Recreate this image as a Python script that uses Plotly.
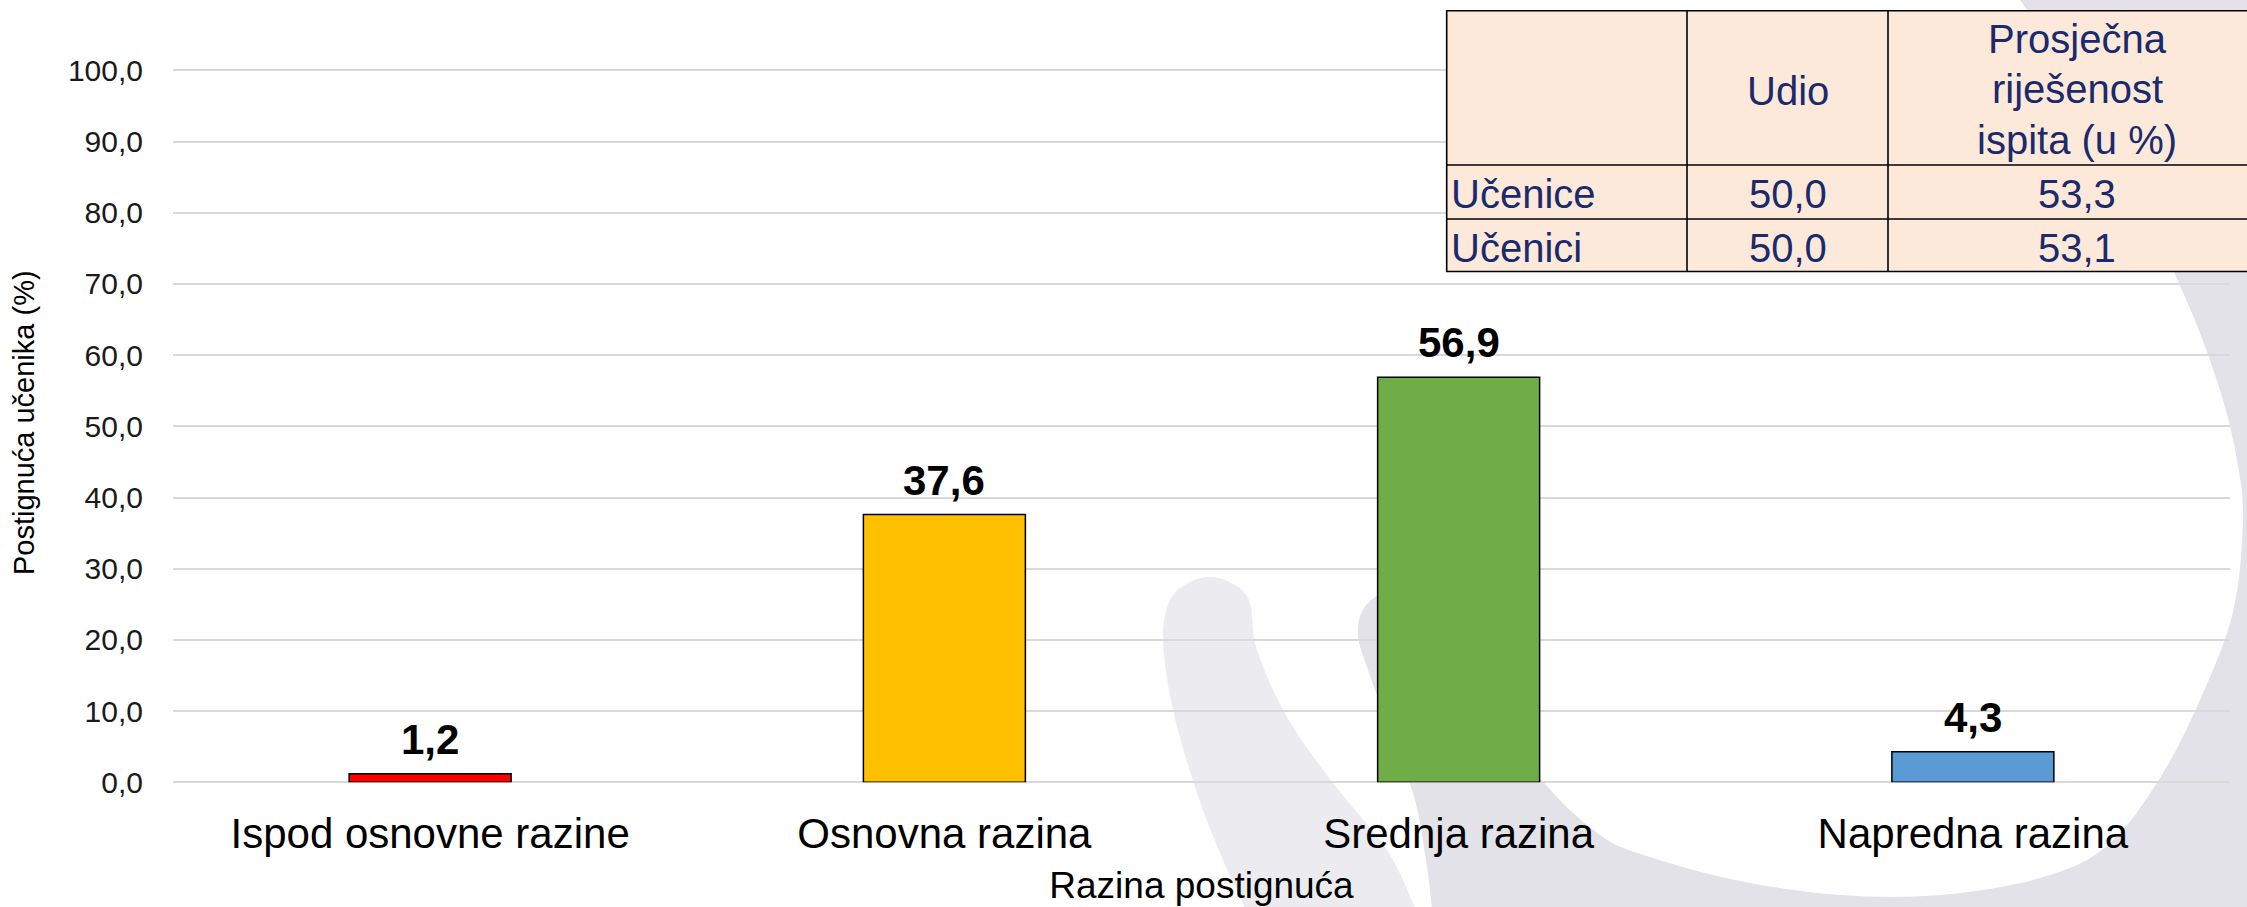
import plotly.graph_objects as go

# ---------------- data ----------------
categories = ["Ispod osnovne razine", "Osnovna razina", "Srednja razina", "Napredna razina"]
values = [1.2, 37.6, 56.9, 4.3]
bar_colors = ["#FF0000", "#FFC000", "#70AD47", "#5B9BD5"]
y_ticks = [0, 10, 20, 30, 40, 50, 60, 70, 80, 90, 100]

table_col_headers = ["", "Udio", "Prosječna<br>riješenost<br>ispita (u %)"]
table_row_labels = ["Učenice", "Učenici"]
table_udio = [50.0, 50.0]
table_rijesenost = [53.3, 53.1]

# ---------------- layout helpers ----------------
W, H = 2247, 907
FONT = "Arial, 'Liberation Sans', sans-serif"
NAVY = "#1a2a6c"
PEACH = "#FDE9D9"


def fx(x):
    return x / W


def fy(y):
    return 1 - y / H


def fmt(v):
    return f"{v:.1f}".replace(".", ",")


def smooth(pts):
    s = f"M{fx(pts[0][0]):.5f},{fy(pts[0][1]):.5f}"
    n = len(pts)
    for i in range(n - 1):
        p0 = pts[i - 1] if i > 0 else pts[i]
        p1 = pts[i]
        p2 = pts[i + 1]
        p3 = pts[i + 2] if i + 2 < n else p2
        c1 = (p1[0] + (p2[0] - p0[0]) / 6, p1[1] + (p2[1] - p0[1]) / 6)
        c2 = (p2[0] - (p3[0] - p1[0]) / 6, p2[1] - (p3[1] - p1[1]) / 6)
        s += (f" C{fx(c1[0]):.5f},{fy(c1[1]):.5f} {fx(c2[0]):.5f},{fy(c2[1]):.5f}"
              f" {fx(p2[0]):.5f},{fy(p2[1]):.5f}")
    return s


# plot area (pixels)
PX_L, PX_R = 173, 2230
PY_0 = 782.3
PX_PER_UNIT = 7.12
Y_MAX = 101
PY_TOP = PY_0 - Y_MAX * PX_PER_UNIT

# ---------------- watermark (background logo) ----------------
ring_curve = [(1432, 907), (1426, 860), (1415, 800), (1392, 735), (1368, 670), (1358, 635),
              (1364, 608), (1385, 592), (1408, 590), (1432, 612), (1480, 690), (1540, 778),
              (1600, 835), (1650, 857), (1740, 881), (1840, 895), (1940, 895), (2040, 878),
              (2107, 846), (2160, 778), (2200, 700), (2233, 612), (2243, 520), (2237, 460),
              (2223, 400), (2200, 333), (2173, 270), (2110, 130), (2020, 0)]
ring_path = smooth(ring_curve) + (f" L{fx(W + 5):.5f},{fy(-5):.5f} L{fx(W + 5):.5f},{fy(H + 5):.5f}"
                                  f" L{fx(1432):.5f},{fy(H + 5):.5f} Z")

bandA_curve = [(1247, 912), (1223, 860), (1197, 793), (1173, 710), (1163, 640), (1170, 600),
               (1190, 582), (1212, 577), (1235, 585), (1250, 603), (1257, 650), (1287, 717),
               (1333, 783), (1387, 850), (1417, 912)]
bandA_path = smooth(bandA_curve) + " Z"

shapes = [
    dict(type="path", xref="paper", yref="paper", path=ring_path, fillcolor="#E2E2E8",
         line=dict(width=0), layer="below"),
    dict(type="path", xref="paper", yref="paper", path=bandA_path, fillcolor="#ECECF0",
         line=dict(width=0), layer="below"),
]

# ---------------- inset table ----------------
T_L, T_R = 1446.7, 2275
T_TOP, T_HDR, T_R1, T_BOT = 10.7, 165, 219, 271.5
COL_X = [1446.7, 1687, 1888, 2266]
ROW_Y = [T_TOP, T_HDR, T_R1, T_BOT]
LINE = dict(color="black", width=1.6)
HDR_LINE_GAP = 50.5

shapes.append(dict(type="rect", xref="paper", yref="paper", x0=fx(T_L), x1=fx(T_R),
                   y0=fy(T_BOT), y1=fy(T_TOP), fillcolor=PEACH, line=LINE, layer="above"))
for yy in ROW_Y[1:3]:
    shapes.append(dict(type="line", xref="paper", yref="paper", x0=fx(T_L), x1=fx(T_R),
                       y0=fy(yy), y1=fy(yy), line=LINE, layer="above"))
for xx in COL_X[1:3]:
    shapes.append(dict(type="line", xref="paper", yref="paper", x0=fx(xx), x1=fx(xx),
                       y0=fy(T_TOP), y1=fy(T_BOT), line=LINE, layer="above"))

annotations = []
TFONT = dict(family=FONT, size=40, color=NAVY)
hdr_mid = (T_TOP + T_HDR) / 2 + 3
for ci, htxt in enumerate(table_col_headers):
    if not htxt:
        continue
    cx = (COL_X[ci] + COL_X[ci + 1]) / 2
    lines = htxt.split("<br>")
    n = len(lines)
    for li, ltxt in enumerate(lines):
        ly = hdr_mid + (li - (n - 1) / 2) * HDR_LINE_GAP
        if n > 1:
            ly -= 1.5
        annotations.append(dict(xref="paper", yref="paper", x=fx(cx), y=fy(ly), text=ltxt,
                                showarrow=False, xanchor="center", yanchor="middle", font=TFONT))
for ri, lab in enumerate(table_row_labels):
    ymid = (ROW_Y[ri + 1] + ROW_Y[ri + 2]) / 2 + 2.5
    annotations.append(dict(xref="paper", yref="paper", x=fx(COL_X[0] + 2), y=fy(ymid), text=lab,
                            showarrow=False, xanchor="left", yanchor="middle", font=TFONT))
    for ci, vals in ((1, table_udio), (2, table_rijesenost)):
        cx = (COL_X[ci] + COL_X[ci + 1]) / 2
        annotations.append(dict(xref="paper", yref="paper", x=fx(cx), y=fy(ymid), text=fmt(vals[ri]),
                                showarrow=False, xanchor="center", yanchor="middle", font=TFONT))

# data labels above bars (placed through the data axes)
for cat, val in zip(categories, values):
    annotations.append(dict(xref="x", yref="y", x=cat, y=val, text=fmt(val),
                            showarrow=False, xanchor="center", yanchor="bottom", yshift=9,
                            font=dict(family=FONT, size=42, color="black", weight="bold")))

# ---------------- figure ----------------
fig = go.Figure()
fig.add_trace(go.Bar(
    x=categories, y=values,
    marker=dict(color=bar_colors, line=dict(color="black", width=1.5)),
    hoverinfo="skip",
))

fig.update_layout(
    template="none",
    width=W, height=H, autosize=False,
    margin=dict(l=0, r=0, t=0, b=0, pad=0),
    paper_bgcolor="white", plot_bgcolor="rgba(0,0,0,0)",
    separators=",.",
    bargap=1 - 0.315,
    showlegend=False,
    font=dict(family=FONT, color="black"),
    shapes=shapes,
    annotations=annotations,
    xaxis=dict(
        domain=[fx(PX_L), fx(PX_R)],
        showgrid=False, showline=False, zeroline=False, ticks="",
        tickfont=dict(family=FONT, size=42, color="black"),
        ticklabelstandoff=23,
        title=dict(text="Razina postignuća", font=dict(family=FONT, size=37, color="black"), standoff=15),
        automargin=False,
    ),
    yaxis=dict(
        domain=[fy(PY_0), fy(PY_TOP)],
        range=[0, Y_MAX],
        tickvals=y_ticks, tickformat=".1f",
        showgrid=True, gridcolor="#D9D9D9", gridwidth=2,
        zeroline=True, zerolinecolor="#D9D9D9", zerolinewidth=2,
        showline=False, ticks="",
        tickfont=dict(family=FONT, size=30, color="#1a1a1a"),
        ticklabelstandoff=29,
        title=dict(text="Postignuća učenika (%)", font=dict(family=FONT, size=29, color="black"), standoff=24),
        automargin=False,
    ),
)

fig.write_html(
    "out.html",
    config={"displayModeBar": False},
    post_script="document.body.style.margin='0px';document.body.style.overflow='hidden';",
)
